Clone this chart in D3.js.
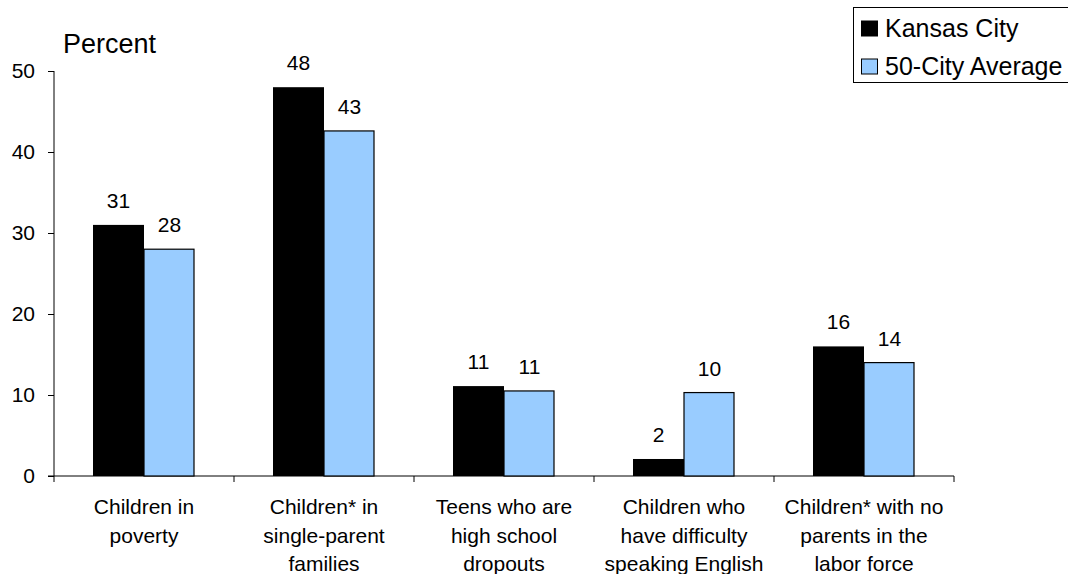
<!DOCTYPE html>
<html><head><meta charset="utf-8">
<script src="https://cdn.jsdelivr.net/npm/d3@7"></script>
<style>body{margin:0;background:#fff}svg{display:block}text{font-family:"Liberation Sans",Arial,sans-serif;fill:#000}</style>
</head><body>
<script>
const categories = [
  ["Children in","poverty"],
  ["Children* in","single-parent","families"],
  ["Teens who are","high school","dropouts"],
  ["Children who","have difficulty","speaking English"],
  ["Children* with no","parents in the","labor force"]
];
const kansasCity = [31, 48, 11.1, 2.1, 16];
const kansasLabels = ["31","48","11","2","16"];
const cityAverage = [28, 42.6, 10.5, 10.3, 14];
const averageLabels = ["28","43","11","10","14"];
const seriesNames = ["Kansas City","50-City Average"];
const yTicks = [0,10,20,30,40,50];

const W=1068,H=574;
const svg=d3.select("body").append("svg").attr("width",W).attr("height",H);
const x0=54, x1=954, yb=476, yt=71;
const x=d3.scaleBand().domain(d3.range(categories.length)).range([x0,x1]).paddingInner(0).paddingOuter(0);
const y=d3.scaleLinear().domain([0,50]).range([yb,yt]);
const bw=51;
const FS=21;

// y axis
const ya=svg.append("g").attr("transform",`translate(${x0},0)`).call(d3.axisLeft(y).tickValues(yTicks).tickSize(6).tickPadding(13));
ya.selectAll("text").attr("font-size",FS).attr("font-family","Liberation Sans, Arial, sans-serif");
ya.selectAll("line,path").attr("stroke","#000");
ya.select(".domain").attr("d",`M0,${yb}V${yt}`);
// x axis
const xa=svg.append("g").attr("transform",`translate(0,${yb})`);
xa.append("line").attr("x1",x0-6).attr("x2",x1).attr("stroke","#000");
xa.selectAll(".tk").data(d3.range(categories.length+1)).join("line")
  .attr("x1",i=>x0+i*x.bandwidth()).attr("x2",i=>x0+i*x.bandwidth()).attr("y1",0).attr("y2",6).attr("stroke","#000");

const g=svg.append("g");
categories.forEach((c,i)=>{
  const cx=x(i)+x.bandwidth()/2;
  g.append("rect").attr("x",cx-bw).attr("y",y(kansasCity[i])).attr("width",bw).attr("height",yb-y(kansasCity[i])).attr("fill","#000");
  g.append("rect").attr("x",cx).attr("y",y(cityAverage[i])).attr("width",bw-1).attr("height",yb-y(cityAverage[i])).attr("fill","#99ccff").attr("stroke","#000").attr("stroke-width",1.2);
  g.append("text").attr("x",cx-bw/2).attr("y",y(kansasCity[i])-17).attr("text-anchor","middle").attr("font-size",FS).text(kansasLabels[i]);
  g.append("text").attr("x",cx+bw/2).attr("y",y(cityAverage[i])-17).attr("text-anchor","middle").attr("font-size",FS).text(averageLabels[i]);
  const t=g.append("text").attr("text-anchor","middle").attr("font-size",FS);
  c.forEach((ln,j)=>t.append("tspan").attr("x",cx).attr("y",514+j*28.5).text(ln));
});

svg.append("text").attr("x",63).attr("y",53).attr("font-size",27).text("Percent");

// legend
const lg=svg.append("g");
lg.append("rect").attr("x",853.5).attr("y",7.5).attr("width",240).attr("height",75).attr("fill","#fff").attr("stroke","#000");
const cols=["#000","#99ccff"];
seriesNames.forEach((s,i)=>{
  const yy=29+i*38;
  lg.append("rect").attr("x",861.5).attr("y",yy-8).attr("width",16).attr("height",15).attr("fill",cols[i]).attr("stroke","#000");
  lg.append("text").attr("x",885).attr("y",yy+8).attr("font-size",25).text(s);
});
</script>
</body></html>
